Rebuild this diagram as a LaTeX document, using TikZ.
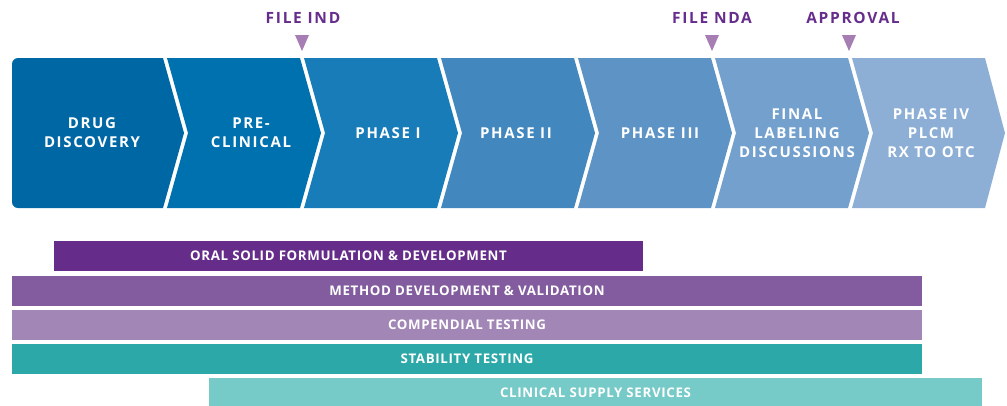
\documentclass[tikz,border=0pt]{standalone}
\usepackage{fontspec}
\setsansfont{Open Sans}[LetterSpace=11]
\newfontfamily\barfont{Open Sans}[LetterSpace=5]
\definecolor{chA}{RGB}{0,103,165}
\definecolor{chB}{RGB}{0,113,175}
\definecolor{chC}{RGB}{24,124,185}
\definecolor{chD}{RGB}{66,135,189}
\definecolor{chE}{RGB}{93,147,197}
\definecolor{chF}{RGB}{115,160,205}
\definecolor{chG}{RGB}{141,175,213}
\definecolor{tri}{RGB}{166,126,180}
\definecolor{milestone}{RGB}{102,45,140}
\definecolor{barA}{RGB}{101,45,137}
\definecolor{barB}{RGB}{130,92,158}
\definecolor{barC}{RGB}{161,134,182}
\definecolor{barD}{RGB}{45,168,168}
\definecolor{barE}{RGB}{118,202,200}
\begin{document}
\begin{tikzpicture}[x=1pt,y=-1pt]

\tikzstyle{ph} = [text=white, align=center, font=\sffamily\bfseries\fontsize{15}{19}\selectfont]
\tikzstyle{ms} = [text=milestone, font=\sffamily\bfseries\fontsize{15.5}{19}\selectfont]
\tikzstyle{b} = [shape=rectangle, inner sep=0pt, minimum height=30pt, text=white, font=\barfont\bfseries\fontsize{13.3}{16}\selectfont]

\useasboundingbox (0,0) rectangle (1007,405);

% phases
\fill[chA] (12,133) [rounded corners=6pt] -- (12,58) -- (90,58) [sharp corners] -- (163,58) -- (184,133) -- (163,208) -- (90,208) [rounded corners=6pt] -- (12,208) -- cycle;
\fill[chB] (167,58) -- (300,58) -- (321,133) -- (300,208) -- (167,208) -- (188,133) -- cycle;
\fill[chC] (304,58) -- (437,58) -- (458,133) -- (437,208) -- (304,208) -- (325,133) -- cycle;
\fill[chD] (441,58) -- (574,58) -- (595,133) -- (574,208) -- (441,208) -- (462,133) -- cycle;
\fill[chE] (578,58) -- (711,58) -- (732,133) -- (711,208) -- (578,208) -- (599,133) -- cycle;
\fill[chF] (715,58) -- (848,58) -- (869,133) -- (848,208) -- (715,208) -- (736,133) -- cycle;
\fill[chG] (852,58) -- (985,58) -- (1005,133) -- (985,208) -- (852,208) -- (873,133) -- cycle;

\node[ph] (drug) at (92,133) {DRUG\\DISCOVERY};
\node[ph] (precl) at (251,133) {PRE-\\CLINICAL};
\node[ph] (ph1) at (388,133) {PHASE I};
\node[ph] (ph2) at (516,133) {PHASE II};
\node[ph] (ph3) at (660,133) {PHASE III};
\node[ph] (final) at (797,133) {FINAL\\LABELING\\DISCUSSIONS};
\node[ph] (ph4) at (931,133) {PHASE IV\\PLCM\\RX TO OTC};

% milestones
\node[ms] (ind) at (303,18) {FILE IND};
\node[ms] (nda) at (712,18) {FILE NDA};
\node[ms] (appr) at (853,18) {APPROVAL};
\fill[tri] (295,35) -- (309,35) -- (302,51) -- cycle;
\fill[tri] (705,35) -- (719,35) -- (712,51) -- cycle;
\fill[tri] (842,35) -- (856,35) -- (849,51) -- cycle;

% services
\node[b, fill=barA, minimum width=589pt] (oral) at (348.5,256) {ORAL SOLID FORMULATION \& DEVELOPMENT};
\node[b, fill=barB, minimum width=910pt] (method) at (467,291) {METHOD DEVELOPMENT \& VALIDATION};
\node[b, fill=barC, minimum width=910pt] (comp) at (467,325) {COMPENDIAL TESTING};
\node[b, fill=barD, minimum width=910pt] (stab) at (467,359) {STABILITY TESTING};
\node[b, fill=barE, minimum width=773pt] (supply) at (595.5,393) {CLINICAL SUPPLY SERVICES};

\end{tikzpicture}
\end{document}
